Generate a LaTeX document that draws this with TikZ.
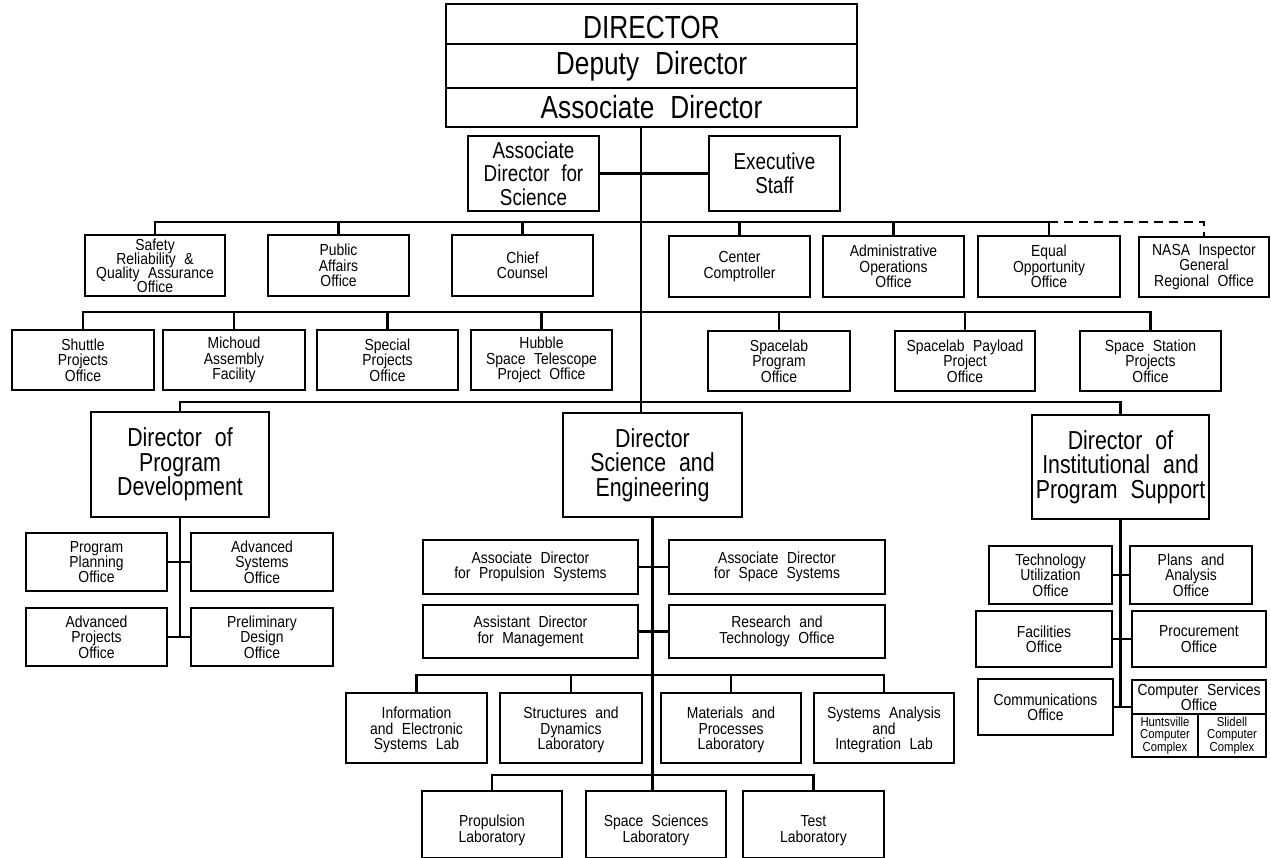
\documentclass[tikz,border=0pt]{standalone}
\usepackage{fontspec}
\setmainfont{Liberation Sans}[FakeStretch=0.82,WordSpace=2.2]
% narrower cut for the small office labels
\newfontfamily\narrowsans{Liberation Sans}[FakeStretch=0.87,WordSpace=2.2]
% let lines of a text block sit at the baseline distance
\newcommand{\tightlines}{\lineskiplimit=-50pt\relax}
% box from corner (x1,y1) to (x2,y2) with a name and centred text
\newcommand{\obox}[7][]{%
  \pgfmathsetmacro\bxcx{(#3+#5)/2}%
  \pgfmathsetmacro\bxcy{(#4+#6)/2}%
  \pgfmathsetmacro\bxw{#5-#3}%
  \pgfmathsetmacro\bxh{#6-#4}%
  \node[box,#1,minimum width=\bxw pt,minimum height=\bxh pt] (#2) at (\bxcx,\bxcy) {#7};}
% same, with the text block moved down by a given amount
\newcommand{\oboxlow}[8][]{%
  \pgfmathsetmacro\bxcx{(#3+#5)/2}%
  \pgfmathsetmacro\bxcy{(#4+#6)/2}%
  \pgfmathsetmacro\bxw{#5-#3}%
  \pgfmathsetmacro\bxh{#6-#4}%
  \node[box,minimum width=\bxw pt,minimum height=\bxh pt] (#2) at (\bxcx,\bxcy) {};
  \node[#1,align=center,inner sep=0pt,yshift=-#7pt] (#2-text) at (#2.center) {#8};}
\begin{document}
\begin{tikzpicture}[x=1pt,y=-1pt,
  box/.style={draw,line width=2.6pt,rectangle,inner sep=0pt,outer sep=0pt,align=center},
  link/.style={line width=2.2pt},
  ftop/.style={font=\fontsize{32}{32}\selectfont},
  fads/.style={font=\fontsize{23}{23.5}\selectfont\tightlines},
  fdir/.style={font=\fontsize{26}{24.5}\selectfont\tightlines},
  frow/.style={font=\narrowsans\fontsize{16}{15.3}\selectfont\tightlines},
  ffour/.style={font=\narrowsans\fontsize{16}{14}\selectfont\tightlines},
  fsub/.style={font=\narrowsans\fontsize{16}{15.3}\selectfont\tightlines},
  fsml/.style={font=\narrowsans\fontsize{13}{12.4}\selectfont\tightlines}]
\fill[white] (0,0) rectangle (1271,858);
\useasboundingbox (0,0) rectangle (1271,858);

% top management block
\oboxlow[ftop]{dir}{446}{4}{857}{44}{3}{DIRECTOR}
\obox[ftop]{dep}{446}{44}{857}{88}{Deputy Director}
\obox[ftop]{adir}{446}{88}{857}{127}{Associate Director}

\obox[fads]{ads}{468}{136}{599}{211}{Associate\\Director for\\Science}
\obox[fads]{exec}{709}{136}{840}{211}{Executive\\Staff}

% staff offices
\obox[ffour]{sra}{85}{235}{225}{296}{Safety\\Reliability \&\\Quality Assurance\\Office}
\obox[frow]{pao}{268}{235}{409}{296}{Public\\Affairs\\Office}
\obox[frow]{cc}{452}{235}{593}{296}{Chief\\Counsel}
\obox[frow]{comp}{669}{236}{810}{297}{Center\\Comptroller}
\obox[frow]{aoo}{823}{236}{964}{297}{Administrative\\Operations\\Office}
\obox[frow]{eoo}{978}{236}{1120}{297}{Equal\\Opportunity\\Office}
\obox[frow]{ig}{1139}{237}{1269}{297}{NASA Inspector\\General\\Regional Office}

% project offices
\obox[frow]{spo}{12}{330}{154}{390}{Shuttle\\Projects\\Office}
\obox[frow]{maf}{163}{330}{305}{390}{Michoud\\Assembly\\Facility}
\obox[frow]{spec}{317}{330}{458}{390}{Special\\Projects\\Office}
\obox[frow]{hst}{471}{330}{612}{390}{Hubble\\Space Telescope\\Project Office}
\obox[frow]{slp}{708}{331}{850}{391}{Spacelab\\Program\\Office}
\obox[frow]{slpp}{895}{331}{1035}{391}{Spacelab Payload\\Project\\Office}
\obox[frow]{ssp}{1080}{331}{1221}{391}{Space Station\\Projects\\Office}

% directorates
\obox[fdir]{pd}{91}{412}{269}{517}{Director of\\Program\\Development}
\obox[fdir]{se}{563}{413}{742}{517}{Director\\Science and\\Engineering}
\obox[fdir]{ips}{1032}{415}{1209}{519}{Director of\\Institutional and\\Program Support}

% program development offices
\obox[fsub]{ppo}{26}{533}{167}{591}{Program\\Planning\\Office}
\obox[fsub]{aso}{191}{533}{333}{591}{Advanced\\Systems\\Office}
\obox[fsub]{apo}{26}{608}{167}{666}{Advanced\\Projects\\Office}
\obox[fsub]{pdo}{191}{608}{333}{666}{Preliminary\\Design\\Office}

% science and engineering staff
\obox[fsub]{adp}{423}{540}{638}{594}{Associate Director\\for Propulsion Systems}
\obox[fsub]{ads2}{669}{540}{885}{594}{Associate Director\\for Space Systems}
\obox[fsub]{adm}{423}{605}{638}{658}{Assistant Director\\for Management}
\obox[fsub]{rto}{669}{605}{885}{658}{Research and\\Technology Office}

% laboratories
\oboxlow[fsub]{iesl}{346}{693}{487}{763}{2}{Information\\and Electronic\\Systems Lab}
\oboxlow[fsub]{sdl}{500}{693}{642}{763}{2}{Structures and\\Dynamics\\Laboratory}
\oboxlow[fsub]{mpl}{661}{693}{801}{763}{2}{Materials and\\Processes\\Laboratory}
\oboxlow[fsub]{sail}{814}{693}{954}{763}{2}{Systems Analysis\\and\\Integration Lab}
\oboxlow[fsub]{pl}{422}{791}{562}{858}{6}{Propulsion\\Laboratory}
\oboxlow[fsub]{ssl}{586}{791}{726}{858}{6}{Space Sciences\\Laboratory}
\oboxlow[fsub]{tl}{743}{791}{884}{858}{6}{Test\\Laboratory}

% institutional and program support offices
\obox[fsub]{tuo}{989}{546}{1112}{604}{Technology\\Utilization\\Office}
\obox[fsub]{pao2}{1130}{546}{1252}{604}{Plans and\\Analysis\\Office}
\obox[fsub]{fo}{976}{611}{1112}{667}{Facilities\\Office}
\obox[fsub]{po}{1132}{611}{1266}{667}{Procurement\\Office}
\obox[fsub]{co}{978}{679}{1113}{735}{Communications\\Office}
\obox[fsub]{cso}{1132}{680}{1266}{714}{Computer Services\\Office}
\obox[fsml]{hcc}{1132}{714}{1198}{757}{Huntsville\\Computer\\Complex}
\obox[fsml]{scc}{1198}{714}{1266}{757}{Slidell\\Computer\\Complex}

% reference lines for the trunk and buses
\coordinate (trunk) at (641,0);
\coordinate (r1) at (0,222);
\coordinate (r2) at (0,312);
\coordinate (r3) at (0,402);
\coordinate (r4) at (0,675);
\coordinate (r5) at (0,775);

% main trunk
\draw[link] (adir.south -| trunk) -- (se.north -| trunk);
\draw[link] (ads.east) -- (exec.west);

% staff office bus
\draw[link] (sra.north) |- (eoo.north |- r1);
\foreach \n in {pao,cc,comp,aoo,eoo}
  \draw[link] (\n.north) -- (\n.north |- r1);
\draw[link,dash pattern=on 9pt off 6pt] (eoo.north |- r1) -| (ig.north);

% project office bus
\draw[link] (spo.north) |- (r2 -| ssp.north) -- (ssp.north);
\foreach \n in {maf,spec,hst,slp,slpp}
  \draw[link] (\n.north) -- (\n.north |- r2);

% directorate bus
\draw[link] (pd.north) |- (r3 -| ips.north) -- (ips.north);

% program development
\draw[link] (pd.south) -- (pd.south |- apo.east);
\draw[link] (ppo.east) -- (aso.west);
\draw[link] (apo.east) -- (pdo.west);

% science and engineering
\draw[link] (se.south) -- (se.south |- ssl.north);
\draw[link] (adp.east) -- (ads2.west);
\draw[link] (adm.east) -- (rto.west);
\draw[link] (iesl.north) |- (r4 -| sail.north) -- (sail.north);
\foreach \n in {sdl,mpl}
  \draw[link] (\n.north) -- (\n.north |- r4);
\draw[link] (pl.north) |- (r5 -| tl.north) -- (tl.north);

% institutional and program support
\draw[link] (ips.south) -- (ips.south |- co.east);
\draw[link] (tuo.east) -- (pao2.west);
\draw[link] (fo.east) -- (po.west);
\draw[link] (co.east) -- (co.east -| cso.west);
\end{tikzpicture}
\end{document}
